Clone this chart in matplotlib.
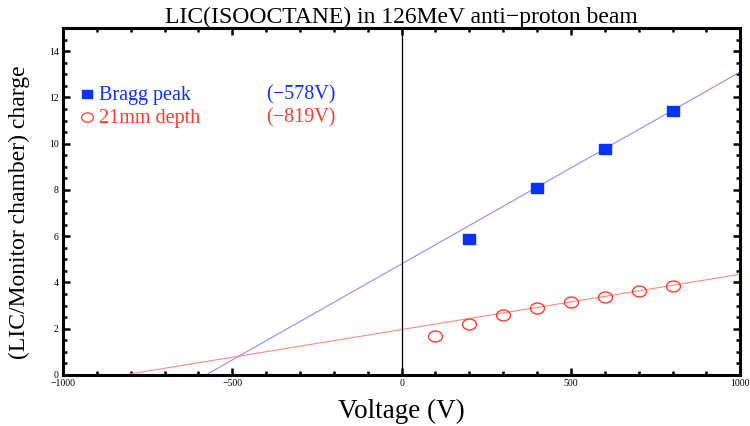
import numpy as np
import matplotlib.pyplot as plt
from matplotlib.ticker import MultipleLocator
from matplotlib.path import Path

plt.rcParams['font.family'] = ['Liberation Serif', 'DejaVu Serif']

# Bragg peak data and fit (zero crossing at -578 V)
bragg_v = [200, 400, 600, 800]
bragg_q = [5.86, 8.07, 9.78, 11.41]
bragg_intercept = 4.80
bragg_zero = -578

# 21mm depth data and fit (zero crossing at -819 V)
depth_v = [100, 200, 300, 400, 500, 600, 700, 800]
depth_q = [1.69, 2.22, 2.59, 2.90, 3.14, 3.38, 3.64, 3.83]
depth_intercept = 1.96
depth_zero = -819

blue = '#0a32ff'
red = '#ff3a2a'

# the original picture is a bit stretched sideways, so the markers are too
t = np.linspace(0, 2 * np.pi, 60)
ellipse = Path(np.column_stack([1.27 * np.cos(t), np.sin(t)]), closed=True)
rect = Path([(-1.2, -1), (1.2, -1), (1.2, 1), (-1.2, 1), (-1.2, -1)], closed=True)

fig = plt.figure(figsize=(7.5, 4.26), dpi=100)
ax = fig.add_axes([0.084, 0.12, 0.903, 0.814])

xs = np.array([-1000, 1000])
ax.plot(xs, bragg_intercept * (1 - xs / bragg_zero), color='#8c8cff', lw=0.8)
ax.plot(xs, depth_intercept * (1 - xs / depth_zero), color='#ff8a80', lw=0.8)
ax.axvline(0, color='black', lw=0.9)

ax.plot(bragg_v, bragg_q, ls='none', marker=rect, color=blue, ms=8, mec=blue)
ax.plot(depth_v, depth_q, ls='none', marker=ellipse, mfc='none', mec=red, ms=10, mew=1.0)

# hand-placed legend like the original
ax.plot([-930], [12.15], ls='none', marker=rect, color=blue, ms=7.5)
ax.plot([-930], [11.15], ls='none', marker=ellipse, mfc='none', mec=red, ms=8.5, mew=0.9)
ax.text(-893, 12.1, 'Bragg peak', color=blue, fontsize=14.5, va='center')
ax.text(-893, 11.1, '21mm depth', color=red, fontsize=14.5, va='center')
ax.text(-400, 12.1, '(\u2212578V)', color=blue, fontsize=14.5, va='center')
ax.text(-400, 11.1, '(\u2212819V)', color=red, fontsize=14.5, va='center')

ax.set_xlim(-1000, 1000)
ax.set_ylim(0, 15)
ax.xaxis.set_major_locator(MultipleLocator(500))
ax.xaxis.set_minor_locator(MultipleLocator(100))
ax.yaxis.set_major_locator(MultipleLocator(2))
ax.yaxis.set_minor_locator(MultipleLocator(0.5))
ax.tick_params(which='both', direction='in', top=True, right=True, labelsize=7, width=1.8, pad=3)
ax.tick_params(which='major', length=5)
ax.tick_params(which='minor', length=3)
ax.set_xticks([-1000, -500, 0, 500, 1000])
ax.set_xticklabels(['\u22121000', '\u2212500', '0', '500', '1000'])
for s in ax.spines.values():
    s.set_linewidth(2.2)

ax.set_title('LIC(ISOOCTANE) in 126MeV anti\u2212proton beam', fontsize=17, pad=2)
ax.set_xlabel('Voltage (V)', fontsize=19.5, labelpad=8)
ax.set_ylabel('(LIC/Monitor chamber) charge', fontsize=17)
ax.yaxis.set_label_coords(-0.048, 0.47)

fig.savefig('out.png', dpi=100)
